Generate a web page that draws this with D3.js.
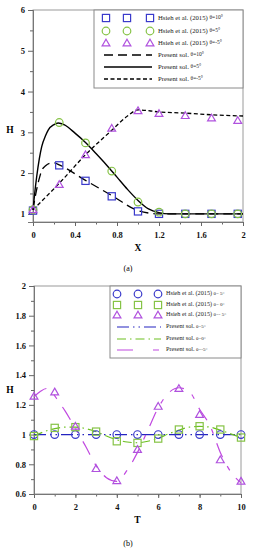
<!DOCTYPE html>
<html>
<head>
<meta charset="utf-8">
<script src="https://cdn.jsdelivr.net/npm/d3@7"></script>
<style>
  body { margin: 0; background: #fff; }
  text { font-family: "Liberation Serif", "Times New Roman", serif; }
</style>
</head>
<body>
<script>
// ---------- panel (a) data ----------
var aX      = [0, 0.25, 0.5, 0.75, 1.0, 1.2, 1.45, 1.7, 1.95];
var aSq10   = [1.08, 2.19, 1.81, 1.43, 1.06, 1.0, 1.0, 1.0, 1.0];
var aCi5    = [1.1, 3.24, 2.74, 2.05, 1.29, 1.04, 1.0, 1.0, 1.0];
var aTrM5   = [1.1, 1.72, 2.45, 3.1, 3.53, 3.46, 3.41, 3.35, 3.29];

var aLineX10 = [0, 0.02, 0.04, 0.06, 0.083, 0.12, 0.16, 0.2, 0.25, 0.5, 0.75, 1.0, 1.1, 1.2, 1.4, 2.0];
var aLineY10 = [1.1, 1.4, 1.66, 1.87, 2.06, 2.18, 2.24, 2.25, 2.2, 1.82, 1.45, 1.08, 1.02, 1.0, 1.0, 1.0];
var aLineX5  = [0, 0.016, 0.035, 0.06, 0.083, 0.12, 0.146, 0.2, 0.24, 0.3, 0.4, 0.5, 0.6, 0.7, 0.8, 0.9, 1.0, 1.1, 1.2, 1.3, 2.0];
var aLineY5  = [1.1, 1.5, 1.91, 2.35, 2.65, 2.92, 3.06, 3.19, 3.23, 3.18, 2.98, 2.75, 2.48, 2.2, 1.9, 1.6, 1.33, 1.12, 1.03, 1.0, 1.0];
var aLineXM5 = [0, 0.25, 0.5, 0.75, 0.9, 1.0, 1.2, 1.45, 1.7, 2.0];
var aLineYM5 = [1.1, 1.75, 2.45, 3.05, 3.4, 3.55, 3.5, 3.47, 3.43, 3.4];

var aYTicks = [1, 2, 3, 4, 5, 6];
var aXTicks = [0, 0.4, 0.8, 1.2, 1.6, 2];

// ---------- panel (b) data ----------
var bT      = [0, 1, 2, 3, 4, 5, 6, 7, 8, 9, 10];
var bCi5    = [1, 1, 1, 1, 1, 1, 1, 1, 1, 1, 1];
var bSq0    = [0.99, 1.045, 1.05, 1.02, 0.955, 0.944, 0.973, 1.034, 1.056, 1.034, 0.98];
var bTrM5   = [1.258, 1.287, 1.056, 0.771, 0.69, 0.90, 1.19, 1.31, 1.135, 0.83, 0.686];

var bLineT0  = [0, 0.5, 1, 1.5, 2, 2.5, 3, 3.5, 4, 4.5, 5, 5.5, 6, 6.5, 7, 7.5, 8, 8.5, 9, 9.5, 10];
var bLineH0  = [0.99, 1.02, 1.04, 1.05, 1.05, 1.04, 1.02, 0.99, 0.965, 0.95, 0.945, 0.955, 0.975, 1.005, 1.03, 1.05, 1.055, 1.05, 1.03, 1.005, 0.98];
var bLineTM5 = [0, 0.3, 0.6, 0.9, 1.2, 1.5, 2, 2.5, 3, 3.5, 4, 4.5, 5, 5.5, 6, 6.5, 7, 7.5, 8, 8.5, 9, 9.5, 10];
var bLineHM5 = [1.255, 1.29, 1.31, 1.28, 1.22, 1.16, 1.04, 0.92, 0.79, 0.71, 0.685, 0.76, 0.88, 1.03, 1.18, 1.28, 1.315, 1.29, 1.17, 1.06, 0.88, 0.75, 0.675];
var bLineT5  = [0, 10];
var bLineH5  = [1, 1];

var bYTicks = [0.6, 0.8, 1, 1.2, 1.4, 1.6, 1.8, 2];
var bXTicks = [0, 2, 4, 6, 8, 10];

// colours
var BLUE = "#3a3acb", GREEN = "#86c346", VIOLET = "#b052de";

var svg = d3.select("body").append("svg")
    .attr("width", 256).attr("height", 550);

function zip(a, b) { return a.map(function (d, i) { return [d, b[i]]; }); }

function drawMarker(g, type, x, y, color) {
  if (type === "sq") {
    g.append("rect").attr("x", x - 3.6).attr("y", y - 3.6)
      .attr("width", 7.2).attr("height", 7.2)
      .attr("fill", "none").attr("stroke", color).attr("stroke-width", 1.2);
  } else if (type === "ci") {
    g.append("circle").attr("cx", x).attr("cy", y).attr("r", 3.8)
      .attr("fill", "none").attr("stroke", color).attr("stroke-width", 1.2);
  } else {
    g.append("path").attr("d", "M" + x + "," + (y - 3.8) + "L" + (x + 3.9) + "," + (y + 2.9) + "L" + (x - 3.9) + "," + (y + 2.9) + "Z")
      .attr("fill", "none").attr("stroke", color).attr("stroke-width", 1.2);
  }
}

function panel(o) {
  var g = svg.append("g");
  var x = d3.scaleLinear().domain(o.xd).range([o.left, o.right]);
  var y = d3.scaleLinear().domain(o.yd).range([o.bottom, o.top]);

  // frame
  g.append("rect").attr("x", o.left).attr("y", o.top)
    .attr("width", o.right - o.left).attr("height", o.bottom - o.top)
    .attr("fill", "none").attr("stroke", "#9a9a9a").attr("stroke-width", 1);

  // minor ticks
  var xa = d3.axisBottom(x).tickValues(o.xMinor).tickSize(2.5).tickFormat("");
  var ya = d3.axisLeft(y).tickValues(o.yMinor).tickSize(3).tickFormat("");
  g.append("g").attr("transform", "translate(0," + o.bottom + ")").call(xa);
  g.append("g").attr("transform", "translate(" + o.left + ",0)").call(ya);
  // major ticks
  var xA = d3.axisBottom(x).tickValues(o.xTicks).tickSize(4).tickPadding(6).tickFormat(d3.format(""));
  var yA = d3.axisLeft(y).tickValues(o.yTicks).tickSize(5).tickPadding(3).tickFormat(d3.format(""));
  g.append("g").attr("transform", "translate(0," + o.bottom + ")").call(xA);
  g.append("g").attr("transform", "translate(" + o.left + ",0)").call(yA);
  g.selectAll(".domain").attr("stroke", "#777");
  g.selectAll(".tick line").attr("stroke", "#666");
  g.selectAll(".tick text").attr("font-family", "Liberation Serif, serif")
    .attr("font-size", 8.5).attr("font-weight", "bold").attr("fill", "#111");

  // axis titles
  g.append("text").attr("x", 10).attr("y", o.hY).attr("text-anchor", "middle")
    .attr("dominant-baseline", "middle").attr("font-size", 9.5).attr("font-weight", "bold").text("H");
  g.append("text").attr("x", (o.left + o.right) / 2).attr("y", o.bottom + 29).attr("text-anchor", "middle")
    .attr("font-size", 9.5).attr("font-weight", "bold").text(o.xLabel);
  g.append("text").attr("x", 128).attr("y", o.capY).attr("text-anchor", "middle")
    .attr("font-size", 8).text(o.caption);

  var plot = g.append("g");
  var line = d3.line().x(function (d) { return x(d[0]); }).y(function (d) { return y(d[1]); })
    .curve(d3.curveMonotoneX);
  o.lines.forEach(function (l) {
    plot.append("path").attr("d", line(zip(l.xs, l.ys)))
      .attr("fill", "none").attr("stroke", l.color).attr("stroke-width", l.w)
      .attr("stroke-dasharray", l.dash);
  });
  o.series.forEach(function (s) {
    s.xs.forEach(function (xv, i) { drawMarker(plot, s.type, x(xv), y(s.ys[i]), s.color); });
  });

  // legend
  var L = o.legend;
  g.append("rect").attr("x", L.x0).attr("y", o.top).attr("width", o.right - L.x0).attr("height", L.h)
    .attr("fill", "#fff").attr("stroke", "#8a8a8a").attr("stroke-width", 1);
  o.series.forEach(function (s, i) {
    var yy = L.ys[i];
    L.mx.forEach(function (mx) { drawMarker(g, s.type, mx, yy, s.color); });
    var t = g.append("text").attr("x", L.tx).attr("y", yy).attr("dominant-baseline", "middle")
      .attr("font-size", L.fs).attr("fill", "#222").text(s.label);
    t.append("tspan").attr("font-size", L.fs - 1.2).text(s.theta);
  });
  o.lines.forEach(function (l, i) {
    var yy = L.ys[i + 3];
    g.append("line").attr("x1", L.lx[0]).attr("x2", L.lx[1]).attr("y1", yy).attr("y2", yy)
      .attr("stroke", l.color).attr("stroke-width", l.w).attr("stroke-dasharray", l.legDash || l.dash);
    var t = g.append("text").attr("x", L.tx).attr("y", yy).attr("dominant-baseline", "middle")
      .attr("font-size", L.fs).attr("fill", "#222").text(l.label);
    t.append("tspan").attr("font-size", L.fs - 1.2).text(l.theta);
  });
}

// ---------- panel (a) ----------
panel({
  xd: [0, 2], yd: [0.8, 6], left: 33, right: 243, top: 10, bottom: 222,
  xTicks: aXTicks, yTicks: aYTicks,
  xMinor: d3.range(0, 2.01, 0.2), yMinor: d3.range(1.5, 6, 1),
  xLabel: "X", caption: "(a)", hY: 131, capY: 271,
  series: [
    { type: "sq", xs: aX, ys: aSq10, color: BLUE, label: "Hsieh et al. (2015) ", theta: "\u03b8=10\u00b0" },
    { type: "ci", xs: aX, ys: aCi5, color: GREEN, label: "Hsieh et al. (2015) ", theta: "\u03b8=5\u00b0" },
    { type: "tr", xs: aX, ys: aTrM5, color: VIOLET, label: "Hsieh et al. (2015) ", theta: "\u03b8=-5\u00b0" }
  ],
  lines: [
    { xs: aLineX10, ys: aLineY10, color: "#000", w: 1.3, dash: "9,5", label: "Present sol. ", theta: "\u03b8=10\u00b0" },
    { xs: aLineX5, ys: aLineY5, color: "#000", w: 1.4, dash: null, label: "Present sol. ", theta: "\u03b8=5\u00b0" },
    { xs: aLineXM5, ys: aLineYM5, color: "#000", w: 1.3, dash: "4,2.5", label: "Present sol. ", theta: "\u03b8=-5\u00b0" }
  ],
  legend: { x0: 94, h: 78, ys: [18, 31, 43, 55, 67, 79], mx: [106, 127, 150], lx: [104, 152], tx: 158, fs: 6.7 }
});

// ---------- panel (b) ----------
panel({
  xd: [0, 10], yd: [0.6, 2], left: 34, right: 241, top: 286, bottom: 494,
  xTicks: bXTicks, yTicks: bYTicks,
  xMinor: d3.range(0, 10.01, 1), yMinor: d3.range(0.7, 2, 0.2),
  xLabel: "T", caption: "(b)", hY: 391, capY: 546,
  series: [
    { type: "ci", xs: bT, ys: bCi5, color: BLUE, label: "Hsieh et al. (2015) ", theta: "\u03b8= 5\u00b0" },
    { type: "sq", xs: bT, ys: bSq0, color: GREEN, label: "Hsieh et al. (2015) ", theta: "\u03b8= 0\u00b0" },
    { type: "tr", xs: bT, ys: bTrM5, color: VIOLET, label: "Hsieh et al. (2015) ", theta: "\u03b8=- 5\u00b0" }
  ],
  lines: [
    { xs: bLineT5, ys: bLineH5, color: "#2424c0", w: 1.2, dash: "12,4,1.5,4,1.5,4", label: "Present sol. ", theta: "\u03b8=5\u00b0" },
    { xs: bLineT0, ys: bLineH0, color: "#6cc020", w: 1.2, dash: "9,4,1.5,4", label: "Present sol. ", theta: "\u03b8=0\u00b0" },
    { xs: bLineTM5, ys: bLineHM5, color: "#c048e0", w: 1.2, dash: "15,10,5,10", legDash: "16,20,6,10", label: "Present sol. ", theta: "\u03b8=-5\u00b0" }
  ],
  legend: { x0: 110, h: 72, ys: [294, 305, 315, 327, 339, 350], mx: [117, 138, 158], lx: [117, 161], tx: 166, fs: 6.2 }
});
</script>
</body>
</html>
